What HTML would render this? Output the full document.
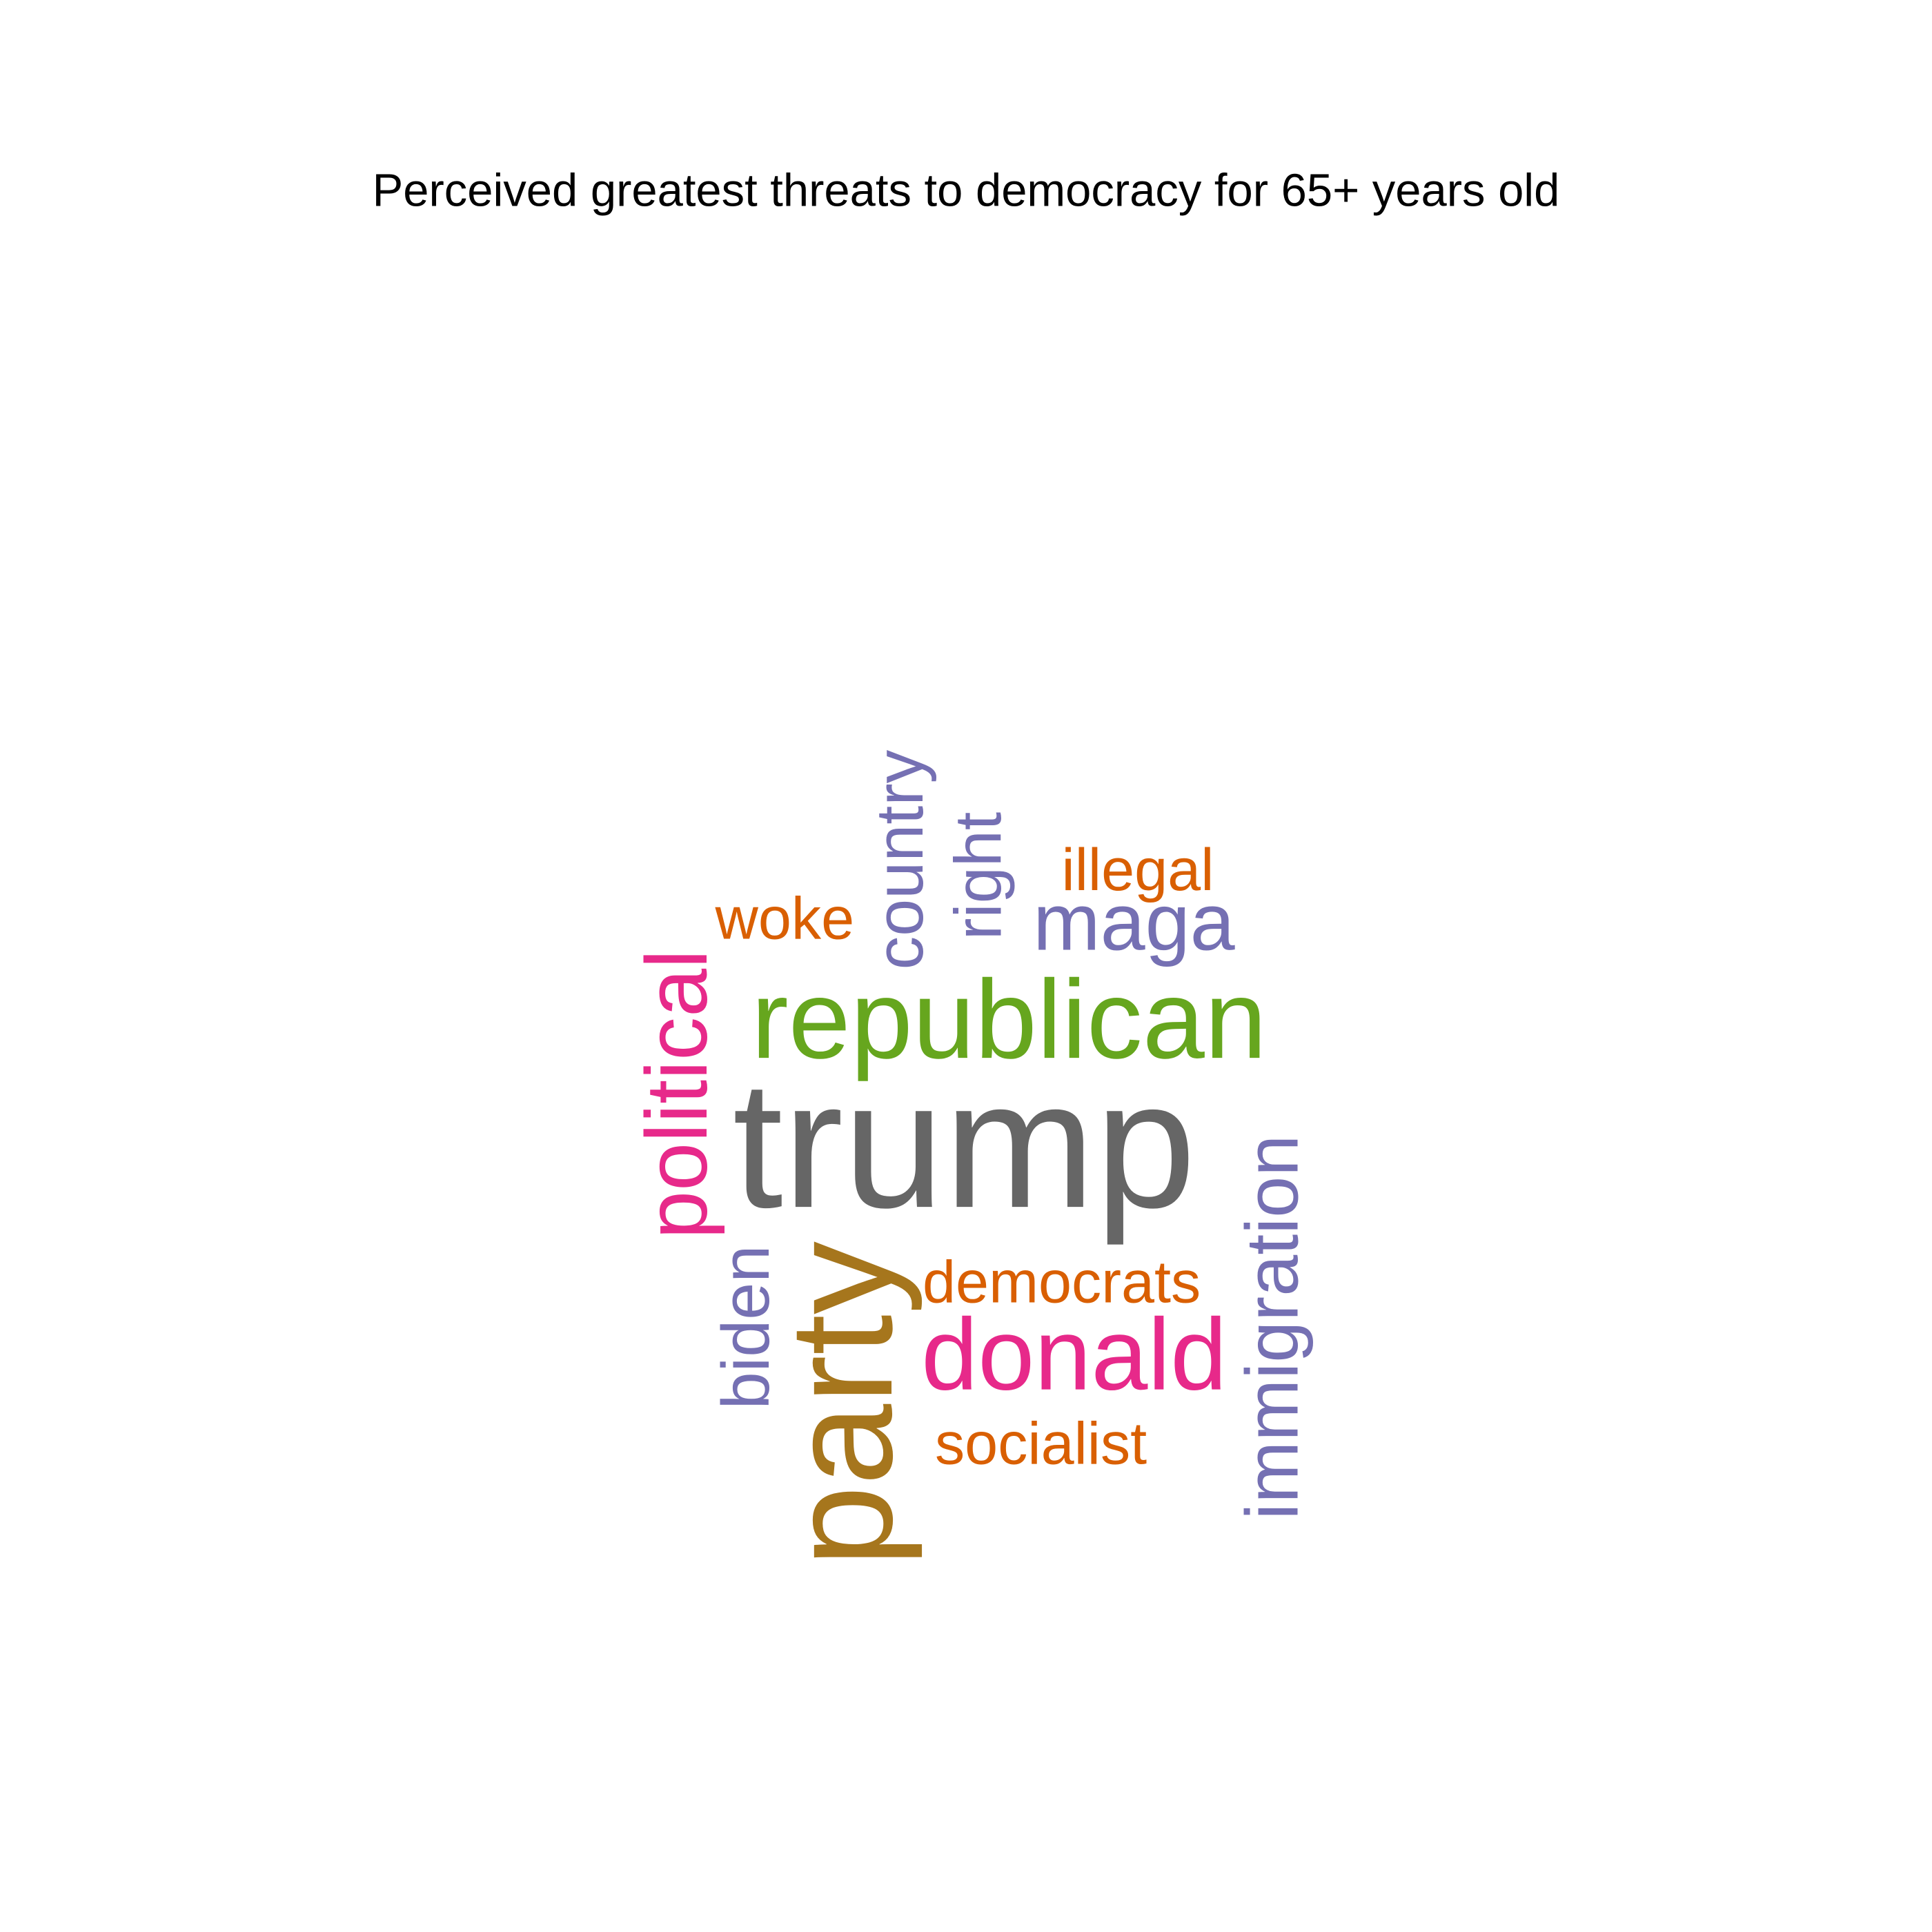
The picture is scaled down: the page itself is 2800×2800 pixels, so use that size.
<!DOCTYPE html>
<html><head><meta charset="utf-8"><style>
html,body{margin:0;padding:0;background:#fff;}
svg{display:block;}
text{font-family:"Liberation Sans",Arial,sans-serif;}
</style></head><body>
<svg width="2800" height="2800" viewBox="0 0 1556 1556" xmlns="http://www.w3.org/2000/svg">
<rect width="1556" height="1556" fill="#fff"/>
<text x="778" y="166" text-anchor="middle" font-size="37.2" fill="#000">Perceived greatest threats to democracy for 65+ years old</text>
<g id="cloud"></g>
</svg>
<script>
const words = ["trump","republican","party","political","donald","maga","immigration","country","right","biden","woke","illegal","democrats","socialist"];
const sizes = [146,90,118,70,82,65,60,54,53,54,48,48,48,48];
const colors = ["#666666","#66A61E","#A6761D","#E7298A","#E7298A","#7570B3","#7570B3","#7570B3","#7570B3","#7570B3","#D95F02","#D95F02","#D95F02","#D95F02"];
const rotated = [0,0,1,1,0,0,1,1,1,1,0,0,0,0];
const anchorX = [590,605,718,569,742,832,1045,743,806,619,576,855,743,753];
const anchorY = [972,852,1262,998,1119,765,1224,781,757,1135,756,717,1049,1179];
const g = document.getElementById('cloud');
const NS = "http://www.w3.org/2000/svg";
words.forEach((w,i)=>{
  const t = document.createElementNS(NS,'text');
  t.setAttribute('x',anchorX[i]);
  t.setAttribute('y',anchorY[i]);
  t.setAttribute('font-size',sizes[i]);
  t.setAttribute('fill',colors[i]);
  if(rotated[i]) t.setAttribute('transform','rotate(-90 '+anchorX[i]+' '+anchorY[i]+')');
  t.textContent = w;
  
  
  g.appendChild(t);
});
</script>
</body></html>
